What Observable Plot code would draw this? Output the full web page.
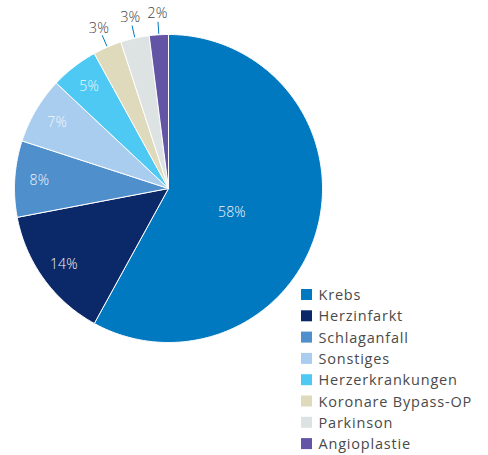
<!DOCTYPE html>
<html><head><meta charset="utf-8">
<script src="https://cdn.jsdelivr.net/npm/d3@7"></script>
<script src="https://cdn.jsdelivr.net/npm/@observablehq/plot@0.6"></script>
<style>body{margin:0;background:#fff} .legend-text text{letter-spacing:0.8px}</style>
</head><body><div id="chart"></div>
<script>
const categories = ["Krebs","Herzinfarkt","Schlaganfall","Sonstiges","Herzerkrankungen","Koronare Bypass-OP","Parkinson","Angioplastie"];
const values = [58,14,8,7,5,3,3,2];
const labels = ["58%","14%","8%","7%","5%","3%","3%","2%"];
const colors = ["#0079c1","#0b2868","#4f8fcc","#a9cdef","#4dc9f4","#e0dabd","#dde3e3","#6454a6"];

const W = 488, H = 455, cx = 168, cy = 188, R = 154;
const rows = categories.map((c, i) => ({category: c, value: values[i], label: labels[i], i}));
const arcs = d3.pie().sort(null).value(d => d.value)(rows);
const pt = (a, r) => [cx + r * Math.sin(a), cy - r * Math.cos(a)];

const polys = [];
arcs.forEach(s => {
  const c = s.data.category;
  polys.push({category: c, x: cx, y: cy});
  const n = Math.max(2, Math.ceil((s.endAngle - s.startAngle) / 0.01));
  for (let k = 0; k <= n; k++) {
    const a = s.startAngle + (s.endAngle - s.startAngle) * k / n;
    const [x, y] = pt(a, R);
    polys.push({category: c, x, y});
  }
  polys.push({category: c, x: cx, y: cy});
});

const inside = arcs.filter(s => s.data.value >= 5).map(s => {
  const m = (s.startAngle + s.endAngle) / 2;
  const big = s.data.value > 50;
  const [x, y] = pt(big ? m + 0.11 : m, big ? 0.44 * R : 0.84 * R);
  return {x, y, label: s.data.label};
});
const outside = arcs.filter(s => s.data.value < 5).map(s => {
  const m = (s.startAngle + s.endAngle) / 2;
  const [x1, y1] = pt(m, R + 1);
  const [x2, y2] = pt(m, R + 13);
  const [tx, ty] = pt(m, R + 21);
  return {x1, y1, x2, y2, tx, ty, label: s.data.label};
});

const legend = rows.map(d => ({
  category: d.category,
  x1: 301, x2: 312,
  y1: 289 + d.i * 21.3, y2: 300 + d.i * 21.3,
  tx: 318, ty: 295 + d.i * 21.3
}));

const chart = Plot.plot({
  width: W, height: H,
  margin: 0,
  x: {domain: [0, W], range: [0, W], axis: null},
  y: {domain: [0, H], range: [0, H], axis: null},
  color: {domain: categories, range: colors},
  style: {fontFamily: "'Open Sans', 'Liberation Sans', Arial, sans-serif", background: "#fff", letterSpacing: "0.2px"},
  marks: [
    Plot.line(polys, {x: "x", y: "y", z: "category", fill: "category", stroke: "white", strokeWidth: 1, strokeLinejoin: "round"}),
    Plot.text(inside, {x: "x", y: "y", text: "label", fill: "#f4f6fa", fontSize: 14, fontWeight: 300}),
    Plot.link(outside, {x1: "x1", y1: "y1", x2: "x2", y2: "y2", stroke: "#0079c1", strokeWidth: 1}),
    Plot.text(outside, {x: "tx", y: "ty", text: "label", fill: "#444", fontSize: 14.5, fontWeight: 300}),
    Plot.rect(legend, {x1: "x1", x2: "x2", y1: "y1", y2: "y2", fill: "category"}),
    Plot.text(legend, {x: "tx", y: "ty", text: "category", fill: "#4a4a4a", fontSize: 14.5, fontWeight: 400, textAnchor: "start", className: "legend-text"})
  ]
});
document.getElementById("chart").appendChild(chart);
</script>
</body></html>
